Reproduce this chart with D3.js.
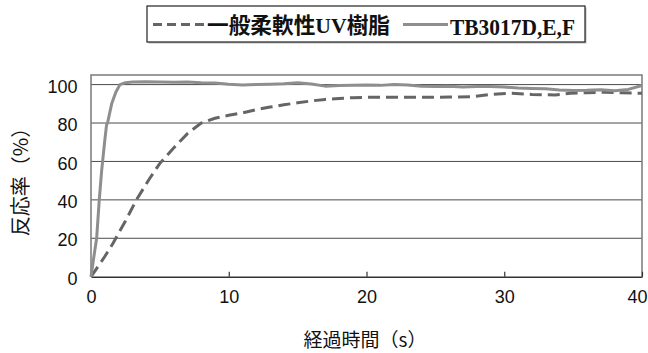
<!DOCTYPE html>
<html>
<head>
<meta charset="utf-8">
<script src="https://cdn.jsdelivr.net/npm/d3@7/dist/d3.min.js"></script>
<style>
  html, body { margin: 0; padding: 0; background: #fff; }
  svg { display: block; }
</style>
</head>
<body>
<svg id="chart" width="648" height="353"></svg>
<script>
// Elapsed time (s) and reaction ratio (%) for the two resins
const seriesNames = ["一般柔軟性UV樹脂", "TB3017D,E,F"];

const generalTime = [0, 1, 1.6, 2.5, 3.3, 4.2, 5, 6, 7, 8, 9, 10, 11, 12, 13, 14, 15, 16, 17, 18, 19, 20, 22, 24, 26, 27.6, 29, 30.5, 32, 33.7, 34.8, 36, 37.3, 38.5, 40];
const generalValue = [0, 10.5, 17.4, 29, 40, 50.5, 59, 67, 74.5, 80, 82.5, 84, 85.3, 87, 88.3, 89.5, 90.5, 91.5, 92.3, 92.8, 93.2, 93.4, 93.4, 93.4, 93.5, 93.7, 94.9, 95.5, 94.9, 94.6, 95.5, 95.8, 96, 95.7, 95.5];

const tbTime = [0, 0.2, 0.41, 0.6, 0.77, 1.0, 1.13, 1.2, 1.5, 1.8, 2.1, 2.5, 3, 4, 5, 6, 7, 8, 9, 10, 11, 12, 13, 14, 15, 16, 17, 18, 19, 20, 21, 22, 23, 24, 25, 26, 27, 28, 29, 30, 31, 32, 33, 34, 35, 36, 37, 38, 39, 40];
const tbValue = [0, 10, 20, 40, 55, 71, 79, 80, 90, 96, 100, 101, 101.3, 101.5, 101.3, 101.2, 101.4, 101, 100.8, 100.2, 99.8, 100, 100.2, 100.5, 101, 100.3, 99.2, 99.5, 99.6, 99.8, 99.6, 100, 99.8, 99.2, 99, 99.2, 98.8, 99, 99, 98.8, 98.2, 98, 97.8, 97.2, 96.9, 97, 97.3, 96.8, 97.5, 99.5];

const xTicks = [0, 10, 20, 30, 40];
const yTicks = [0, 20, 40, 60, 80, 100];

const xTitle = "経過時間（s）";
const yTitle = "反応率（%）";

const svg = d3.select("#chart");

const x = d3.scaleLinear().domain([0, 40]).range([91, 642]);
const y = d3.scaleLinear().domain([0, 105]).range([276.7, 75]);

const numFont = "'Liberation Sans', Arial, sans-serif";
const cjkFont = "'Noto Sans CJK JP', sans-serif";

// Horizontal gridlines
svg.append("g")
  .selectAll("line")
  .data(yTicks.filter(d => d > 0))
  .join("line")
  .attr("x1", x(0)).attr("x2", x(40))
  .attr("y1", d => y(d)).attr("y2", d => y(d))
  .attr("stroke", "#4a4a4a")
  .attr("stroke-width", 1);

// Plot frame (left, top, right)
svg.append("path")
  .attr("d", `M${x(0)},${y(0)} V${y(105)} H${x(40)} V${y(0)}`)
  .attr("fill", "none")
  .attr("stroke", "#7a7a7a")
  .attr("stroke-width", 1.5);

// X axis with inward ticks
const xAxis = svg.append("g")
  .attr("transform", `translate(0,${y(0)})`)
  .call(d3.axisBottom(x).tickValues(xTicks).tickSizeInner(-5).tickSizeOuter(0).tickPadding(13.5));
xAxis.select(".domain").attr("stroke", "#333").attr("stroke-width", 1.5);
xAxis.selectAll(".tick line").attr("stroke", "#333").attr("stroke-width", 1.2);
xAxis.selectAll("text")
  .attr("font-family", numFont).attr("font-size", 18).attr("fill", "#111");
// keep the last label inside the page edge
xAxis.selectAll(".tick text").filter(d => d === 40)
  .attr("text-anchor", "end").attr("dx", 5);

// Y axis labels
const yAxis = svg.append("g")
  .attr("transform", `translate(${x(0)},0)`)
  .call(d3.axisLeft(y).tickValues(yTicks).tickSize(0).tickPadding(13.5));
yAxis.select(".domain").remove();
yAxis.selectAll("text")
  .attr("font-family", numFont).attr("font-size", 18).attr("fill", "#111")
  .attr("dy", "0.42em");

// Series lines
const line = d3.line().x(d => x(d[0])).y(d => y(d[1]));

svg.append("path")
  .datum(generalTime.map((t, i) => [t, generalValue[i]]))
  .attr("d", line)
  .attr("fill", "none")
  .attr("stroke", "#656565")
  .attr("stroke-width", 3)
  .attr("stroke-dasharray", "12,6");

svg.append("path")
  .datum(tbTime.map((t, i) => [t, tbValue[i]]))
  .attr("d", line)
  .attr("fill", "none")
  .attr("stroke", "#8e8e8e")
  .attr("stroke-width", 3)
  .attr("stroke-linejoin", "round");

// Axis titles
svg.append("text")
  .attr("x", 365).attr("y", 347)
  .attr("text-anchor", "middle")
  .attr("font-family", cjkFont).attr("font-size", 19).attr("fill", "#111")
  .text(xTitle);

svg.append("text")
  .attr("transform", "translate(28,177) rotate(-90)")
  .attr("text-anchor", "middle")
  .attr("font-family", cjkFont).attr("font-size", 20).attr("fill", "#111")
  .text(yTitle);

// Legend box with a soft shadow edge
const legend = svg.append("g");
legend.append("rect")
  .attr("x", 148.5).attr("y", 7.5).attr("width", 438).attr("height", 36)
  .attr("fill", "#bbb");
legend.append("rect")
  .attr("x", 147).attr("y", 6).attr("width", 438).attr("height", 36)
  .attr("fill", "#fff").attr("stroke", "#222").attr("stroke-width", 1.2);

legend.append("line")
  .attr("x1", 153).attr("x2", 205).attr("y1", 24.5).attr("y2", 24.5)
  .attr("stroke", "#656565").attr("stroke-width", 3)
  .attr("stroke-dasharray", "9,5");
legend.append("text")
  .attr("x", 207).attr("y", 33)
  .attr("font-family", "'Liberation Serif', 'Noto Sans CJK JP', serif")
  .attr("font-weight", "bold").attr("font-size", 22).attr("fill", "#111")
  .attr("textLength", 183).attr("lengthAdjust", "spacingAndGlyphs")
  .text(seriesNames[0]);

legend.append("line")
  .attr("x1", 403).attr("x2", 448).attr("y1", 24.5).attr("y2", 24.5)
  .attr("stroke", "#8e8e8e").attr("stroke-width", 3);
legend.append("text")
  .attr("x", 450).attr("y", 35)
  .attr("font-family", "'Liberation Serif', serif")
  .attr("font-weight", "bold").attr("font-size", 23).attr("fill", "#111")
  .attr("textLength", 125).attr("lengthAdjust", "spacingAndGlyphs")
  .text(seriesNames[1]);
</script>
</body>
</html>
